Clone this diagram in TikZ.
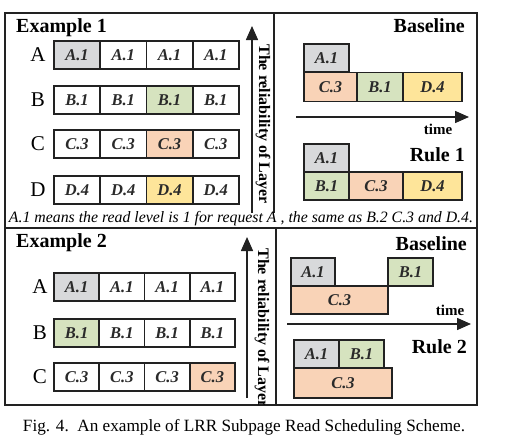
\documentclass[tikz,border=0pt]{standalone}
\usepackage{fontspec}
\setmainfont{Liberation Serif}
\usetikzlibrary{arrows.meta}
\definecolor{cgray}{HTML}{D8D9DB}
\definecolor{cpeach}{HTML}{F9D3B7}
\definecolor{cgreen}{HTML}{D6E3BF}
\definecolor{cyellow}{HTML}{FEE59A}
\definecolor{cline}{HTML}{222222}
\definecolor{ctext}{HTML}{2A2A2A}
\tikzset{
  cell/.style={draw=cline, line width=1.4pt, minimum height=28pt, inner sep=0pt, text=ctext,
    font=\fontsize{16.5}{16.5}\selectfont\bfseries\itshape},
  gcell/.style={cell, minimum width=46pt},
  hcell/.style={cell, minimum width=45pt},
  rowlab/.style={font=\fontsize{21}{21}\selectfont, inner sep=0pt},
  head/.style={font=\fontsize{20}{20}\selectfont\bfseries, inner sep=0pt},
  layertxt/.style={font=\fontsize{16}{16}\selectfont\bfseries, rotate=-90, inner sep=0pt},
  frame/.style={draw=cline, line width=1.5pt},
  bigarrow/.style={draw=cline, line width=1.5pt, -{Triangle[width=12pt,length=14pt]}},
  timetxt/.style={font=\fontsize{15}{15}\selectfont\bfseries, inner sep=0pt},
}
\begin{document}
\begin{tikzpicture}[x=1pt,y=-1pt]
\useasboundingbox (0,0) rectangle (520,439);
% frames
\draw[frame] (5,13) rectangle (477,228);
\draw[frame] (5,228) rectangle (477,405);
\draw[frame] (274,13) -- (274,213);
\draw[frame] (276,228) -- (276,405);

% ===== Example 1 =====
\node[head, anchor=west] (ex1) at (16,28) {Example 1};
\foreach \r/\y/\t/\hl/\hc in {A/55/A.1/1/cgray, B/100/B.1/3/cgreen, C/144/C.3/3/cpeach, D/190/D.4/3/cyellow}{
  \node[rowlab] (l1\r) at (38,\y) {\r};
  \foreach \i/\x in {1/77,2/123.3,3/169.5,4/215.8}{
    \ifnum\i=\hl
      \node[gcell, fill=\hc] (e1\r\i) at (\x,\y) {\t};
    \else
      \node[gcell, fill=white] (e1\r\i) at (\x,\y) {\t};
    \fi
  }
}
\coordinate (ar1s) at (252,213);
\coordinate (ar1e) at (252,26);
\draw[bigarrow] (ar1s) -- (ar1e);
\node[layertxt] (lay1) at (263,124) {The reliability of Layer};

\node[head, anchor=east] (base1) at (465,26) {Baseline};
\node[hcell, fill=cgray, minimum width=45pt] (b1a) at (326.5,58) {A.1};
\node[cell, fill=cpeach, minimum width=53pt, minimum height=29pt] (b1c) at (330.5,87) {C.3};
\node[cell, fill=cgreen, minimum width=46pt, minimum height=29pt] (b1b) at (380,87) {B.1};
\node[cell, fill=cyellow, minimum width=59pt, minimum height=29pt] (b1d) at (432.5,87) {D.4};
\coordinate (t1s) at (296,117);
\coordinate (t1e) at (469,117);
\draw[bigarrow] (t1s) -- (t1e);
\node[timetxt] (time1) at (438,129) {time};
\node[head, anchor=east] (rule1) at (465,155) {Rule 1};
\node[hcell, fill=cgray] (r1a) at (326.5,158) {A.1};
\node[hcell, fill=cgreen] (r1b) at (326.5,186) {B.1};
\node[cell, fill=cpeach, minimum width=54pt] (r1c) at (376,186) {C.3};
\node[cell, fill=cyellow, minimum width=59pt] (r1d) at (432.5,186) {D.4};

\node[inner sep=0pt] (note) at (241,219) {\resizebox{464pt}{!}{\itshape A.1 means the read level is 1 for request A , the same as B.2 C.3 and D.4.}};

% ===== Example 2 =====
\node[head, anchor=west] (ex2) at (16,243) {Example 2};
\foreach \r/\y/\t/\hl/\hc in {A/287/A.1/1/cgray, B/333/B.1/1/cgreen, C/377/C.3/4/cpeach}{
  \node[rowlab] (l2\r) at (40,\y) {\r};
  \foreach \i/\x in {1/76.6,2/121.9,3/167.1,4/212.4}{
    \ifnum\i=\hl
      \node[hcell, fill=\hc] (e2\r\i) at (\x,\y) {\t};
    \else
      \node[hcell, fill=white] (e2\r\i) at (\x,\y) {\t};
    \fi
  }
}
\coordinate (ar2s) at (247,398);
\coordinate (ar2e) at (247,237);
\draw[bigarrow] (ar2s) -- (ar2e);
\begin{scope}
\clip (250,229) rectangle (275,404);
\node[layertxt] (lay2) at (262,328) {The reliability of Layer};
\end{scope}

\node[head, anchor=east] (base2) at (467,244) {Baseline};
\node[cell, fill=cgray, minimum width=44pt] (b2a) at (313,272) {A.1};
\node[cell, fill=cpeach, minimum width=97pt] (b2c) at (339.5,300) {C.3};
\node[hcell, fill=cgreen] (b2b) at (410.5,272) {B.1};
\node[timetxt] (time2) at (450,310) {time};
\coordinate (t2s) at (287,324);
\coordinate (t2e) at (471,324);
\draw[bigarrow] (t2s) -- (t2e);
\node[head, anchor=east] (rule2) at (467,347) {Rule 2};
\node[hcell, fill=cgray] (r2a) at (316.5,354) {A.1};
\node[hcell, fill=cgreen] (r2b) at (361.5,354) {B.1};
\node[cell, fill=cpeach, minimum width=98pt, minimum height=30pt] (r2c) at (343,383) {C.3};

% caption
\node[inner sep=0pt] (cap) at (244,427) {\resizebox{442pt}{!}{Fig. 4.\enspace An example of LRR Subpage Read Scheduling Scheme.}};
\end{tikzpicture}
\end{document}
